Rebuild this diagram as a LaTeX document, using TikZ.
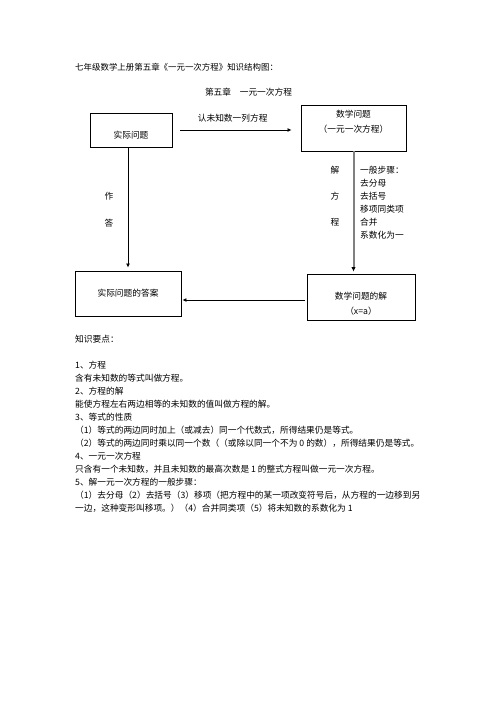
\documentclass[tikz,border=0pt]{standalone}
\usepackage{fontspec}
\setmainfont{Noto Sans CJK SC}
\usetikzlibrary{positioning, arrows.meta}

\begin{document}
\begin{tikzpicture}[x=1pt, y=-1pt, font=\fontsize{8.7}{13}\selectfont]
  \tikzstyle{module}=[draw, line width=0.9pt, inner sep=0, align=center]
  \tikzstyle{plain}=[inner sep=0, align=left]
  \tikzstyle{link}=[line width=0.9pt, -{Latex[length=4pt, width=4pt]}]

  \useasboundingbox (0,0) rectangle (496,702);

  \node [plain, anchor=west, font=\fontsize{8.45}{13}\selectfont] (title) at (75,67) {七年级数学上册第五章《一元一次方程》知识结构图：};
  \node [plain] (chapter) at (248.5,92) {第五章　一元一次方程};

  \node [module, minimum width=82pt, minimum height=34pt, text height=17pt, text depth=1pt] (P) at (131,130) {实际问题};
  \node [module, minimum width=105pt, minimum height=46pt, text height=10pt, text depth=1.4pt] (M) at (353.5,128) {数学问题\\[2pt]（一元一次方程）};
  \node [module, minimum width=108pt, minimum height=46pt, text height=36pt, text depth=1.4pt] (S) at (361,297) {数学问题的解\\[2pt]（x=a）};
  \node [module, minimum width=106pt, minimum height=45pt] (A) at (128,293.5) {实际问题的答案};

  \node [plain] (D-1) at (109,196) {作};
  \node [plain] (D-2) at (109,223) {答};
  \node [plain, align=center] (J) at (335,196) {解\\[13pt]方\\[13pt]程};
  \node [plain, anchor=west] (steps) at (360,202.5) {一般步骤：\\去分母\\去括号\\移项同类项\\合并\\系数化为一};

  \draw [link, shorten <=8pt, shorten >=9pt] (P.east) -- (P.east -| M.west) node [pos=0.47, above=7pt, inner sep=0] (L-1) {认未知数一列方程};
  \draw [link, shorten >=3pt] (A.north |- P.south) -- (A.north);
  \draw [line width=2pt, draw=gray, -{Latex[black, length=4.5pt, width=4.5pt]}, shorten >=2pt] (M.south) -- (M.south |- S.north);
  \draw [link, shorten <=2pt, shorten >=1pt] (S.west |- 0,300) -- (A.east |- 0,300);

  \node [plain, anchor=north west] (notes) at (75,334.6) {知识要点：\\[13pt]
    1、方程\\
    含有未知数的等式叫做方程。\\
    2、方程的解\\
    能使方程左右两边相等的未知数的值叫做方程的解。\\
    3、等式的性质\\
    （1）等式的两边同时加上（或减去）同一个代数式，所得结果仍是等式。\\
    （2）等式的两边同时乘以同一个数（（或除以同一个不为 0 的数），所得结果仍是等式。\\
    4、一元一次方程\\
    只含有一个未知数，并且未知数的最高次数是 1 的整式方程叫做一元一次方程。\\
    5、解一元一次方程的一般步骤：\\
    （1）去分母（2）去括号（3）移项（把方程中的某一项改变符号后，从方程的一边移到另\\
    一边，这种变形叫移项。）（4）合并同类项（5）将未知数的系数化为 1};
\end{tikzpicture}
\end{document}
